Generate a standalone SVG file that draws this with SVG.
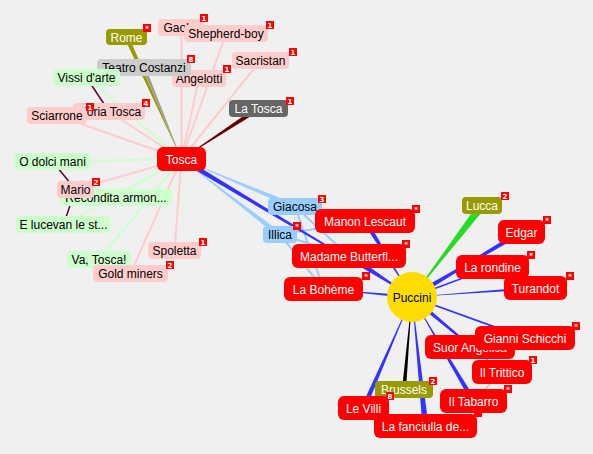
<svg xmlns="http://www.w3.org/2000/svg" width="593" height="454" viewBox="0 0 593 454">
<style>
text{font-family:"Liberation Sans",Arial,sans-serif;font-size:12px;text-anchor:middle}
.t{fill:#000}.w{fill:#fff}
.pk{fill:#ffcccc}.gr{fill:#ccffcc}.lb{fill:#99ccff}.rd{fill:#ff0000}.ol{fill:#999900}.gy{fill:#cccccc}.dg{fill:#666666}
.bd{fill:#ff0000}
.bt{font-family:"DejaVu Sans",sans-serif;font-size:7px;font-weight:bold;fill:#fff}
.ep{stroke:#ffcccc;stroke-width:2;fill:none}
.eg{stroke:#ccffcc;stroke-width:2;fill:none}
.el{stroke:#99ccff;stroke-width:2;fill:none}
.em{stroke:#660033;stroke-width:1.5;fill:none}
.eb{stroke:#3333ff;fill:none}
</style>
<rect width="593" height="454" fill="#f0f0f0"/>
<g id="connectors">
<line class="ep" x1="181.5" y1="159" x2="181.5" y2="27.5"/>
<line class="ep" x1="181.5" y1="159" x2="226" y2="33.5"/>
<line class="ep" x1="181.5" y1="159" x2="199" y2="78.5"/>
<line class="ep" x1="181.5" y1="159" x2="260.5" y2="60.5"/>
<line class="ep" x1="181.5" y1="159" x2="109" y2="111.5"/>
<line class="ep" x1="181.5" y1="159" x2="57" y2="115.5"/>
<line class="ep" x1="181.5" y1="159" x2="75.5" y2="189.5"/>
<line class="ep" x1="181.5" y1="159" x2="174.5" y2="250.5"/>
<line class="ep" x1="181.5" y1="159" x2="130.5" y2="273.5"/>
<line class="eg" x1="181.5" y1="159" x2="86.5" y2="77.5"/>
<line class="eg" x1="181.5" y1="159" x2="52.5" y2="161.5"/>
<line class="eg" x1="181.5" y1="159" x2="116" y2="197.5"/>
<line class="eg" x1="181.5" y1="159" x2="63.5" y2="224.5"/>
<line class="eg" x1="181.5" y1="159" x2="99" y2="259.5"/>
<line class="em" x1="86.5" y1="77.5" x2="109" y2="111.5"/>
<line class="em" x1="75.5" y1="189.5" x2="52.5" y2="161.5"/>
<line class="em" x1="75.5" y1="189.5" x2="63.5" y2="224.5"/>
<line class="em" x1="75.5" y1="189.5" x2="116" y2="197.5"/>
<line class="el" x1="295" y1="206.5" x2="349" y2="256"/>
<line class="el" x1="295" y1="206.5" x2="323.5" y2="289"/>
<line class="el" x1="295" y1="206.5" x2="365" y2="221"/>
<line class="el" x1="280" y1="234.5" x2="349" y2="256"/>
<line class="el" x1="280" y1="234.5" x2="323.5" y2="289"/>
<line class="el" x1="280" y1="234.5" x2="365" y2="221"/>
<polygon fill="#99ccff" points="181.5,159 294.04,208.81 295.96,204.19"/>
<polygon fill="#99ccff" points="181.5,159 278,236.5 281,232.5"/>
<polygon fill="#3333ff" points="180.2,161.2 182.8,156.9 412,297"/>
<polygon fill="#999900" points="181.5,159 128.55,36.08 124.45,37.92"/>
<polygon fill="#999999" points="181.5,159 145.39,66.93 142.61,68.07"/>
<polygon fill="#660000" points="181.5,159 259.88,110.58 257.12,106.42"/>
<polygon fill="#3333ff" points="412,297 367.1,219.7 362.9,222.3"/>
<polygon fill="#3333ff" points="412,297 350.6,253.5 347.4,258.5"/>
<polygon fill="#3333ff" points="323.5,289 411.9,298.5 412.1,295.5"/>
<polygon fill="#3333ff" points="412,297 522.8,234.15 520.2,229.85"/>
<polygon fill="#3333ff" points="521.5,232 413.28,299.15 410.72,294.85"/>
<line class="eb" stroke-width="1.5" x1="412" y1="297" x2="492.5" y2="267"/>
<polygon fill="#3333ff" points="412,297 535.6,289.5 535.4,286.5"/>
<line class="eb" stroke-width="1.8" x1="412" y1="297" x2="525" y2="338"/>
<polygon fill="#3333ff" points="470,347 410.69,298.51 413.31,295.49"/>
<polygon fill="#3333ff" points="502,372 410.72,298.54 413.28,295.46"/>
<polygon fill="#3333ff" points="412,297 471.35,402.27 475.65,399.73"/>
<polygon fill="#3333ff" points="412,297 422.5,426.3 428.5,425.7"/>
<polygon fill="#3333ff" points="412,297 361.2,407 365.8,409"/>
<polygon fill="#000000" points="412,297 402,389.3 406,389.7"/>
<polygon fill="#22dd22" points="412,297 485.2,207.9 478.8,203.1"/>
<line stroke="#777777" stroke-width="0.7" x1="502" y1="372" x2="473.5" y2="401"/>
</g>
<g id="n-gaoler"><rect class="pk" x="158" y="19" width="47" height="17" rx="4"/><text class="t" x="181.5" y="32">Gaoler</text><rect class="bd" x="200" y="14" width="8" height="8"/><text class="bt" x="204" y="20.5">1</text></g>
<g id="n-shepherd"><rect class="pk" x="184" y="25" width="84" height="17" rx="4"/><text class="t" x="226" y="38">Shepherd-boy</text><rect class="bd" x="266" y="21" width="8" height="8"/><text class="bt" x="270" y="27.5">1</text></g>
<g id="n-angelotti"><rect class="pk" x="172" y="70" width="54" height="17" rx="4"/><text class="t" x="199" y="83">Angelotti</text><rect class="bd" x="223" y="65" width="8" height="8"/><text class="bt" x="227" y="71.5">1</text></g>
<g id="n-teatro"><rect class="gy" x="97" y="59" width="94" height="17" rx="4"/><text class="t" x="144" y="72">Teatro Costanzi</text><rect class="bd" x="187" y="55" width="8" height="8"/><text class="bt" x="191" y="61.5">8</text></g>
<g id="n-rome"><rect class="ol" x="106" y="29" width="41" height="16" rx="4"/><text class="w" x="126.5" y="41.5">Rome</text><rect class="bd" x="143" y="24" width="8" height="8"/><text class="bt" x="147" y="30.5">*</text></g>
<g id="n-sacristan"><rect class="pk" x="232" y="52" width="57" height="17" rx="4"/><text class="t" x="260.5" y="65">Sacristan</text><rect class="bd" x="289" y="48" width="8" height="8"/><text class="bt" x="293" y="54.5">1</text></g>
<g id="n-vissi"><rect class="gr" x="53" y="69" width="67" height="17" rx="4"/><text class="t" x="86.5" y="82">Vissi d'arte</text></g>
<g id="n-floria"><rect class="pk" x="73" y="103" width="72" height="17" rx="4"/><text class="t" x="109" y="116">Floria Tosca</text><rect class="bd" x="142" y="99" width="8" height="8"/><text class="bt" x="146" y="105.5">4</text></g>
<g id="n-sciarrone"><rect class="pk" x="27" y="107" width="60" height="17" rx="4"/><text class="t" x="57" y="120">Sciarrone</text><rect class="bd" x="86" y="103" width="8" height="8"/><text class="bt" x="90" y="109.5">1</text></g>
<g id="n-latosca"><rect class="dg" x="229" y="100" width="59" height="17" rx="4"/><text class="w" x="258.5" y="113">La Tosca</text><rect class="bd" x="286" y="97" width="8" height="8"/><text class="bt" x="290" y="103.5">1</text></g>
<g id="n-tosca"><rect class="rd" x="157" y="147" width="49" height="24" rx="6"/><text class="w" x="181.5" y="163.5">Tosca</text></g>
<g id="n-odolci"><rect class="gr" x="14" y="153" width="77" height="17" rx="4"/><text class="t" x="52.5" y="166">O dolci mani</text></g>
<g id="n-recondita"><rect class="gr" x="60" y="189" width="112" height="17" rx="4"/><text class="t" x="116" y="202">Recondita armon...</text></g>
<g id="n-mario"><rect class="pk" x="57" y="181" width="37" height="17" rx="4"/><text class="t" x="75.5" y="194">Mario</text><rect class="bd" x="92" y="178" width="8" height="8"/><text class="bt" x="96" y="184.5">2</text></g>
<g id="n-elucevan"><rect class="gr" x="16" y="216" width="95" height="17" rx="4"/><text class="t" x="63.5" y="229">E lucevan le st...</text></g>
<g id="n-vatosca"><rect class="gr" x="67" y="251" width="64" height="17" rx="4"/><text class="t" x="99" y="264">Va, Tosca!</text></g>
<g id="n-goldminers"><rect class="pk" x="93" y="265" width="75" height="17" rx="4"/><text class="t" x="130.5" y="278">Gold miners</text><rect class="bd" x="166" y="261" width="8" height="8"/><text class="bt" x="170" y="267.5">2</text></g>
<g id="n-spoletta"><rect class="pk" x="148" y="242" width="53" height="17" rx="4"/><text class="t" x="174.5" y="255">Spoletta</text><rect class="bd" x="199" y="238" width="8" height="8"/><text class="bt" x="203" y="244.5">1</text></g>
<g id="n-giacosa"><rect class="lb" x="268" y="198" width="54" height="17" rx="4"/><text class="t" x="295" y="211">Giacosa</text><rect class="bd" x="318" y="195" width="8" height="8"/><text class="bt" x="322" y="201.5">3</text></g>
<g id="n-illica"><rect class="lb" x="263" y="226" width="34" height="17" rx="4"/><text class="t" x="280" y="239">Illica</text><rect class="bd" x="293" y="222" width="8" height="8"/><text class="bt" x="297" y="228.5">*</text></g>
<g id="n-manon"><rect class="rd" x="315" y="209" width="100" height="24" rx="6"/><text class="w" x="365" y="225.5">Manon Lescaut</text><rect class="bd" x="412" y="205" width="8" height="8"/><text class="bt" x="416" y="211.5">*</text></g>
<g id="n-butterfly"><rect class="rd" x="292" y="244" width="114" height="24" rx="6"/><text class="w" x="349" y="260.5">Madame Butterfl...</text><rect class="bd" x="402" y="240" width="8" height="8"/><text class="bt" x="406" y="246.5">*</text></g>
<g id="n-boheme"><rect class="rd" x="284" y="277" width="79" height="24" rx="6"/><text class="w" x="323.5" y="293.5">La Bohème</text><rect class="bd" x="362" y="272" width="8" height="8"/><text class="bt" x="366" y="278.5">*</text></g>
<g id="n-lucca"><rect class="ol" x="462" y="197" width="40" height="17" rx="4"/><text class="w" x="482" y="210">Lucca</text><rect class="bd" x="501" y="192" width="8" height="8"/><text class="bt" x="505" y="198.5">2</text></g>
<g id="n-edgar"><rect class="rd" x="498" y="220" width="47" height="24" rx="6"/><text class="w" x="521.5" y="236.5">Edgar</text><rect class="bd" x="543" y="216" width="8" height="8"/><text class="bt" x="547" y="222.5">*</text></g>
<g id="n-rondine"><rect class="rd" x="456" y="255" width="73" height="24" rx="6"/><text class="w" x="492.5" y="271.5">La rondine</text><rect class="bd" x="527" y="251" width="8" height="8"/><text class="bt" x="531" y="257.5">*</text></g>
<g id="n-turandot"><rect class="rd" x="504" y="276" width="63" height="24" rx="6"/><text class="w" x="535.5" y="292.5">Turandot</text><rect class="bd" x="566" y="272" width="8" height="8"/><text class="bt" x="570" y="278.5">*</text></g>
<g id="n-puccini"><circle cx="412" cy="297" r="25" fill="#ffdd00"/><text class="t" x="412" y="301.5">Puccini</text></g>
<g id="n-suor"><rect class="rd" x="425" y="335" width="90" height="24" rx="6"/><text class="w" x="470" y="351.5">Suor Angelica</text></g>
<g id="n-gianni"><rect class="rd" x="475" y="326" width="100" height="24" rx="6"/><text class="w" x="525" y="342.5">Gianni Schicchi</text><rect class="bd" x="572" y="322" width="8" height="8"/><text class="bt" x="576" y="328.5">*</text></g>
<g id="n-trittico"><rect class="rd" x="472" y="360" width="60" height="24" rx="6"/><text class="w" x="502" y="376.5">Il Trittico</text><rect class="bd" x="529" y="356" width="8" height="8"/><text class="bt" x="533" y="362.5">1</text></g>
<g id="n-brussels"><rect class="ol" x="375" y="381" width="58" height="17" rx="4"/><text class="w" x="404" y="394">Brussels</text><rect class="bd" x="429" y="377" width="8" height="8"/><text class="bt" x="433" y="383.5">2</text></g>
<g id="n-fanciulla"><rect class="rd" x="374" y="414" width="103" height="24" rx="6"/><text class="w" x="425.5" y="430.5">La fanciulla de...</text><rect class="bd" x="474" y="409" width="8" height="8"/></g>
<g id="n-tabarro"><rect class="rd" x="440" y="389" width="67" height="24" rx="6"/><text class="w" x="473.5" y="405.5">Il Tabarro</text><rect class="bd" x="504" y="385" width="8" height="8"/><text class="bt" x="508" y="391.5">*</text></g>
<g id="n-levilli"><rect class="rd" x="338" y="396" width="51" height="24" rx="6"/><text class="w" x="363.5" y="412.5">Le Villi</text><rect class="bd" x="386" y="392" width="8" height="8"/><text class="bt" x="390" y="398.5">8</text></g>
</svg>
